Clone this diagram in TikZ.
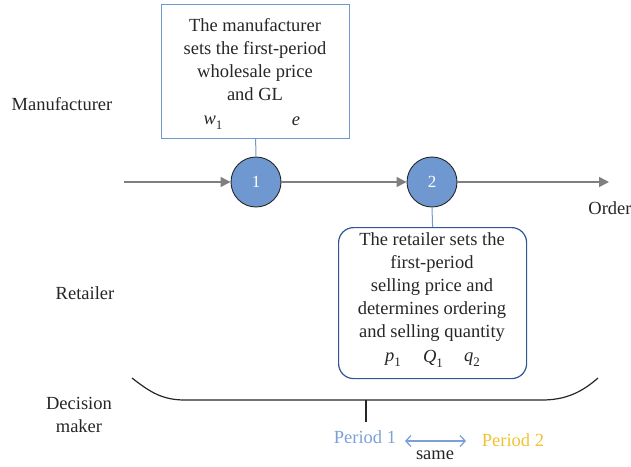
\documentclass[tikz,border=0pt]{standalone}
\usepackage{fontspec}
\setmainfont{Liberation Serif}
\usetikzlibrary{arrows.meta}

\definecolor{softblue}{HTML}{7298D0}
\definecolor{circfill}{HTML}{6F97D0}
\definecolor{deepblue}{HTML}{2F5597}
\definecolor{flowgray}{HTML}{7F7F7F}
\definecolor{periodblue}{HTML}{7CA1D8}
\definecolor{periodgold}{HTML}{F2C232}
\definecolor{inkgray}{HTML}{262626}

% italic symbol with an upright index set a little low
\newcommand{\sub}[2]{\textit{#1}\raisebox{-0.28em}{\fontsize{13}{13}\selectfont #2}}

\begin{document}
\begin{tikzpicture}[x=1pt,y=-1pt,
  txt/.style={font=\fontsize{18.5}{23}\selectfont, text=inkgray, inner sep=0pt},
  block/.style={txt, align=center},
  stage/.style={circle, fill=circfill, draw=inkgray, line width=0.9pt,
    minimum size=50pt, inner sep=0pt, text=white, font=\fontsize{17}{20}\selectfont},
  flow/.style={draw=flowgray, line width=1.4pt,
    -{Triangle[length=10pt,width=10pt]}},
  link/.style={draw=softblue, line width=1pt},
  brace/.style={draw=inkgray, line width=1.2pt},
  same/.style={draw=periodblue, line width=1.3pt,
    {Straight Barb[length=5pt,width=11pt]}-{Straight Barb[length=5pt,width=11pt]}}
]
\useasboundingbox (0,0) rectangle (631,466);

% row labels
\node[txt] (lman) at (62,104) {Manufacturer};
\node[txt] (lret) at (85,293) {Retailer};
\node[block] (ldec) at (79,415) {Decision\\maker};

% manufacturer decision box
\node[draw=softblue, line width=1.2pt, minimum width=188pt, minimum height=134pt,
  anchor=north west, inner sep=0pt] (mbox) at (161,4) {};
\node[block] (mtext) at (255,60) {The manufacturer\\sets the first-period\\wholesale price\\and GL};
\node[txt] (w1) at (213,123) {\sub{w}{1}};
\node[txt] (e) at (296,121) {\textit{e}};

% decision stages on the time line
\node[stage] (c1) at (256,182) {1};
\node[stage] (c2) at (432,182) {2};
\coordinate (start) at (124,182);
\coordinate (finish) at (609,182);
\draw[flow] (start) -- (c1);
\draw[flow] (c1) -- (c2);
\draw[flow] (c2) -- (finish);
\node[txt] (order) at (610,208) {Order};

\draw[link] (mbox.south) -- (c1.north);

% retailer decision box
\node[draw=deepblue, line width=1.2pt, rounded corners=15pt, minimum width=188pt,
  minimum height=151pt, anchor=north west, inner sep=0pt] (rbox) at (338,227) {};
\draw[link] (c2.south) -- (rbox.north);
\node[block] (rtext) at (432,287) {The retailer sets the\\first-period\\selling price and\\determines ordering\\and selling quantity};
\node[txt] (p1) at (393,360) {\sub{p}{1}};
\node[txt] (Q1) at (433,359) {\sub{Q}{1}};
\node[txt] (q2) at (472,360) {\sub{q}{2}};

% brace under both stages
\coordinate (bl) at (132,378);
\coordinate (br) at (598,378);
\coordinate (bm) at (366,400);
\coordinate (bt) at (366,422);
\draw[brace] (bl) .. controls (150,392) and (162,400) .. (185,400) -- (542,400)
  .. controls (566,400) and (582,392) .. (br);
\draw[brace] (bm) -- (bt);

% periods
\node[txt, text=periodblue] (per1) at (365,437) {Period 1};
\node[txt, text=periodgold] (per2) at (513,440) {Period 2};
\coordinate (sa) at (405,441);
\coordinate (sb) at (466,441);
\draw[same] (sa) -- (sb);
\node[txt] (sametxt) at (435,455) {same};
\end{tikzpicture}
\end{document}
